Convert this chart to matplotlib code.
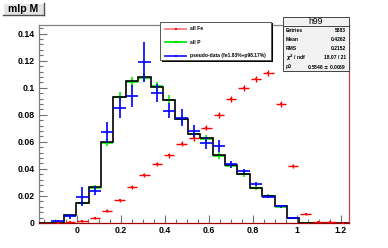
import numpy as np
import matplotlib
matplotlib.use('Agg')
import matplotlib.pyplot as plt
from matplotlib.patches import Rectangle
from matplotlib.lines import Line2D

plt.rcParams['font.family'] = ['Liberation Sans', 'DejaVu Sans']
plt.rcParams['font.weight'] = 'bold'

# histogram binning (25 bins across the frame)
x_min, x_max, n_bins = -0.173, 1.236, 25

# fit / sum histogram (black step line)
fit_sum = [0, 0, 0.0057, 0.0148, 0.0265, 0.060, 0.093, 0.105, 0.1077, 0.1007,
           0.091, 0.0766, 0.0655, 0.0625, 0.050, 0.043, 0.0366, 0.0262, 0.0203,
           0.0124, 0.004, 0, 0, 0, 0]

# all P (green)
all_p = [0, 0.0003, 0.0052, 0.0145, 0.0258, 0.0595, 0.0935, 0.1045, 0.1075, 0.101,
         0.0912, 0.0768, 0.0655, 0.062, 0.0498, 0.0425, 0.0363, 0.0258, 0.0198,
         0.0120, 0.0038, 0.0003, 0.0002, 0, 0]
all_p_err = [0, 0.0002, 0.0009, 0.0015, 0.002, 0.0029, 0.0034, 0.0036, 0.0036, 0.0035,
             0.0033, 0.003, 0.0028, 0.0027, 0.0024, 0.0022, 0.002, 0.0017, 0.0015,
             0.0012, 0.0007, 0.0002, 0.0002, 0, 0]

# all Fe (red)
all_fe = [0, 0.0003, 0.0007, 0.0015, 0.0038, 0.0092, 0.0168, 0.0267, 0.0358, 0.0437,
          0.050, 0.0585, 0.0628, 0.0704, 0.0798, 0.0914, 0.0996, 0.1064, 0.1108,
          0.0878, 0.042, 0.0064, 0.001, 0.0005, 0.0003]
all_fe_err = [0, 0.0002, 0.0003, 0.0004, 0.0006, 0.0009, 0.0011, 0.0013, 0.0015, 0.0016,
              0.0017, 0.0018, 0.0019, 0.002, 0.0021, 0.0022, 0.0023, 0.0024, 0.0024,
              0.0022, 0.0015, 0.0006, 0.0003, 0.0002, 0.0002]

# pseudo-data (blue)
pseudo = [0, 0.0015, 0.005, 0.0195, 0.024, 0.067, 0.085, 0.094, 0.119, 0.096,
          0.083, 0.078, 0.068, 0.059, 0.057, 0.0435, 0.0387, 0.0287, 0.0195,
          0.0124, 0.004, 0, 0, 0, 0]
pseudo_err = [0, 0.001, 0.002, 0.0068, 0.003, 0.0075, 0.0075, 0.008, 0.0148, 0.0068,
              0.0055, 0.006, 0.0043, 0.0043, 0.0043, 0.0025, 0.0015, 0.0015, 0.0012,
              0.001, 0.0008, 0, 0, 0, 0]

legend_labels = ['all Fe', 'all P', 'pseudo-data (fe1.83%+p98.17%)']
stats_names = ['Entries', 'Mean', 'RMS', r'$\chi^2$ / ndf', 'p0']
stats_values = ['5883', '0.4262', '0.2152', '18.07 / 21', '0.5846 $\\pm$ 0.0069']

edges = np.linspace(x_min, x_max, n_bins + 1)
centers = 0.5 * (edges[:-1] + edges[1:])
half_w = 0.5 * (edges[1] - edges[0])

W, H = 388, 248
fig = plt.figure(figsize=(W / 100, H / 100), dpi=100)
fig.patch.set_facecolor('white')
ax = fig.add_axes([39 / W, 1 - 223 / H, 310 / W, 198 / H])


def draw_points(vals, errs, color, ms, z, xw=1.0, lw=1.2):
    v = np.array(vals)
    e = np.array(errs)
    m = v > 0
    ax.errorbar(centers[m], v[m], xerr=half_w * xw, yerr=e[m], fmt='s', ms=ms,
                color=color, ecolor=color, elinewidth=lw, capsize=0,
                mew=0, zorder=z)


draw_points(all_p, all_p_err, '#00ee00', 0.1, 2)
ax.stairs(fit_sum, edges, color='black', lw=1.2, zorder=3)
draw_points(all_fe, all_fe_err, '#ff0000', 2.0, 4, xw=0.85, lw=1.0)
draw_points(pseudo, pseudo_err, '#0000ff', 0.1, 5)

ax.set_xlim(x_min, x_max)
ax.set_ylim(0, 0.1464)
ax.set_xticks([0, 0.2, 0.4, 0.6, 0.8, 1.0, 1.2])
ax.set_xticklabels(['0', '0.2', '0.4', '0.6', '0.8', '1', '1.2'])
ax.set_xticks(np.arange(-0.15, 1.236, 0.05), minor=True)
ax.set_yticks([0, 0.02, 0.04, 0.06, 0.08, 0.1, 0.12, 0.14])
ax.set_yticklabels(['0', '0.02', '0.04', '0.06', '0.08', '0.1', '0.12', '0.14'])
ax.set_yticks(np.arange(0, 0.146, 0.004), minor=True)
ax.tick_params(which='both', direction='in', color='#707070', width=0.8,
               labelsize=6.3, top=False, right=False)
ax.tick_params(which='major', length=6)
ax.tick_params(which='minor', length=3)
ax.tick_params(axis='y', pad=3)
ax.tick_params(axis='x', pad=2.5)
for lab in ax.get_xticklabels() + ax.get_yticklabels():
    lab.set_fontweight('bold')

ax.spines['left'].set_color('#808080')
ax.spines['top'].set_color('#808080')
ax.spines['right'].set_color('#d04040')
ax.spines['bottom'].set_color('#a00000')
for s in ax.spines.values():
    s.set_linewidth(0.9)


def fx(x):
    return x / W


def fy(y):
    return 1 - y / H


def box(x0, y0, x1, y1, **kw):
    r = Rectangle((fx(x0), fy(y1)), fx(x1) - fx(x0), fy(y0) - fy(y1),
                  transform=fig.transFigure, **kw)
    fig.add_artist(r)


# title box
box(3, 3, 44, 15, facecolor='#e4e4e4', edgecolor='none')
fig.add_artist(Line2D([fx(3), fx(44)], [fy(3), fy(3)], color='white', lw=1, transform=fig.transFigure))
fig.add_artist(Line2D([fx(3), fx(3)], [fy(3), fy(15)], color='white', lw=1, transform=fig.transFigure))
fig.add_artist(Line2D([fx(3), fx(44)], [fy(15), fy(15)], color='#505050', lw=1, transform=fig.transFigure))
fig.add_artist(Line2D([fx(44), fx(44)], [fy(3), fy(15)], color='#505050', lw=1, transform=fig.transFigure))
fig.text(fx(23.5), fy(9.3), 'mlp M', ha='center', va='center', fontsize=7.5, fontweight='bold')

# legend
box(162, 23.5, 272.5, 62, facecolor='black', edgecolor='none', zorder=6)
box(160, 22, 271, 60, facecolor='white', edgecolor='#555555', lw=0.7, zorder=7)
leg_colors = ['#ff8080', '#00ee00', '#2020ff']
marker_colors = ['#ff0000', '#00cc00', '#0000ff']
rows = [29, 42, 56]
for lab, lc, mc, ry in zip(legend_labels, leg_colors, marker_colors, rows):
    fig.add_artist(Line2D([fx(165), fx(186)], [fy(ry), fy(ry)], color=lc, lw=1.3,
                          transform=fig.transFigure, zorder=8))
    fig.add_artist(Line2D([fx(175.5)], [fy(ry)], color=mc, marker='s', ms=1.6, mew=0,
                          transform=fig.transFigure, zorder=8))
    fig.text(fx(189.5), fy(ry), lab, ha='left', va='center', fontsize=3.6,
             fontweight='bold', zorder=9)

# stats box
box(284, 18, 349.5, 71.7, facecolor='#555555', edgecolor='none', zorder=6)
box(283, 17, 348.5, 70.7, facecolor='#f2f2f2', edgecolor='#444444', lw=0.7, zorder=7)
fig.add_artist(Line2D([fx(283), fx(348.5)], [fy(26), fy(26)], color='#444444', lw=0.7,
                      transform=fig.transFigure, zorder=8))
fig.text(fx(315.7), fy(21.6), 'h99', ha='center', va='center', fontsize=6.2,
         fontweight='normal', zorder=9)
for i, (nm, vl) in enumerate(zip(stats_names, stats_values)):
    ry = 31 + i * 8.9
    fig.text(fx(285.5), fy(ry), nm, ha='left', va='center', fontsize=3.6,
             fontweight='bold', zorder=9)
    fig.text(fx(346), fy(ry), vl, ha='right', va='center', fontsize=3.6,
             fontweight='bold', zorder=9)

fig.savefig('out.png', dpi=100)
